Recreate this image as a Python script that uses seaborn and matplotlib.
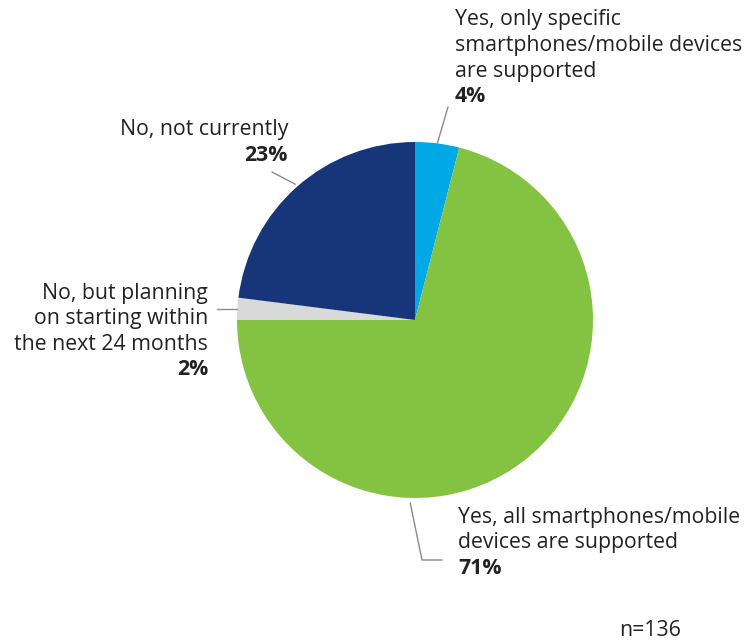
import numpy as np
import matplotlib
matplotlib.use("Agg")
import matplotlib.pyplot as plt
import seaborn as sns

# Survey answers, clockwise from 12 o'clock
labels = [
    "Yes, only specific\nsmartphones/mobile devices\nare supported",
    "Yes, all smartphones/mobile\ndevices are supported",
    "No, but planning\non starting within\nthe next 24 months",
    "No, not currently",
]
shares = [4, 71, 2, 23]
pct_labels = ["4%", "71%", "2%", "23%"]
colors = ["#00a9e6", "#84c342", "#d9d9d9", "#17367a"]
sample_note = "n=136"

sns.set_theme(style="white")
plt.rcParams["font.family"] = ["Open Sans", "DejaVu Sans"]

W, H = 751, 642
fig = plt.figure(figsize=(W / 100, H / 100), dpi=100)
ax = fig.add_axes([0, 0, 1, 1])


def Y(y):
    return H - y


cx, cy, R = 415, Y(320), 178
wedges, _ = ax.pie(shares, colors=colors, startangle=90, counterclock=False,
                   center=(cx, cy), radius=R, frame=True,
                   wedgeprops=dict(linewidth=0))
ax.set_xlim(0, W)
ax.set_ylim(0, H)
ax.set_aspect("equal")
ax.axis("off")

text_color = "#222222"
line_color = "#8a8a8a"
fs = 15.3
step = 25.5


def block(x, y0, text, pct, ha):
    lines = text.split("\n")
    for i, ln in enumerate(lines):
        ax.text(x, Y(y0 + i * step), ln, ha=ha, va="center", fontsize=fs,
                color=text_color)
    ax.text(x, Y(y0 + len(lines) * step), pct, ha=ha, va="center",
            fontsize=fs, fontweight="bold", color=text_color)


def edge_point(angle_deg, r):
    a = np.deg2rad(angle_deg)
    return cx + r * np.cos(a), cy + r * np.sin(a)


def mid_angle(w):
    return (w.theta1 + w.theta2) / 2


# Labels
block(455, 20, labels[0], pct_labels[0], "left")
block(458, 517, labels[1], pct_labels[1], "left")
block(208, 293, labels[2], pct_labels[2], "right")
block(288, 130, labels[3], pct_labels[3], "right")

# Leader lines
px, py_ = edge_point(mid_angle(wedges[0]), R)
ax.plot([px, 448], [py_, Y(107)], color=line_color, lw=1)

px, py_ = edge_point(mid_angle(wedges[3]), R + 3)
ax.plot([px, 272], [py_, Y(172)], color=line_color, lw=1)

px, py_ = edge_point(mid_angle(wedges[2]), R)
ax.plot([217, px], [py_, py_], color=line_color, lw=1)

lo = min(wedges[1].theta1, wedges[1].theta2)
hi = max(wedges[1].theta1, wedges[1].theta2)
ang = -91.5 if lo <= -91.5 <= hi else mid_angle(wedges[1])
px, py_ = edge_point(ang, R + 5)
ax.plot([px, 422, 442], [py_, Y(560), Y(560)], color=line_color, lw=1)

ax.text(650, Y(630), sample_note, ha="center", va="center", fontsize=fs,
        color=text_color)

fig.savefig("out.png", dpi=100, facecolor="white")
